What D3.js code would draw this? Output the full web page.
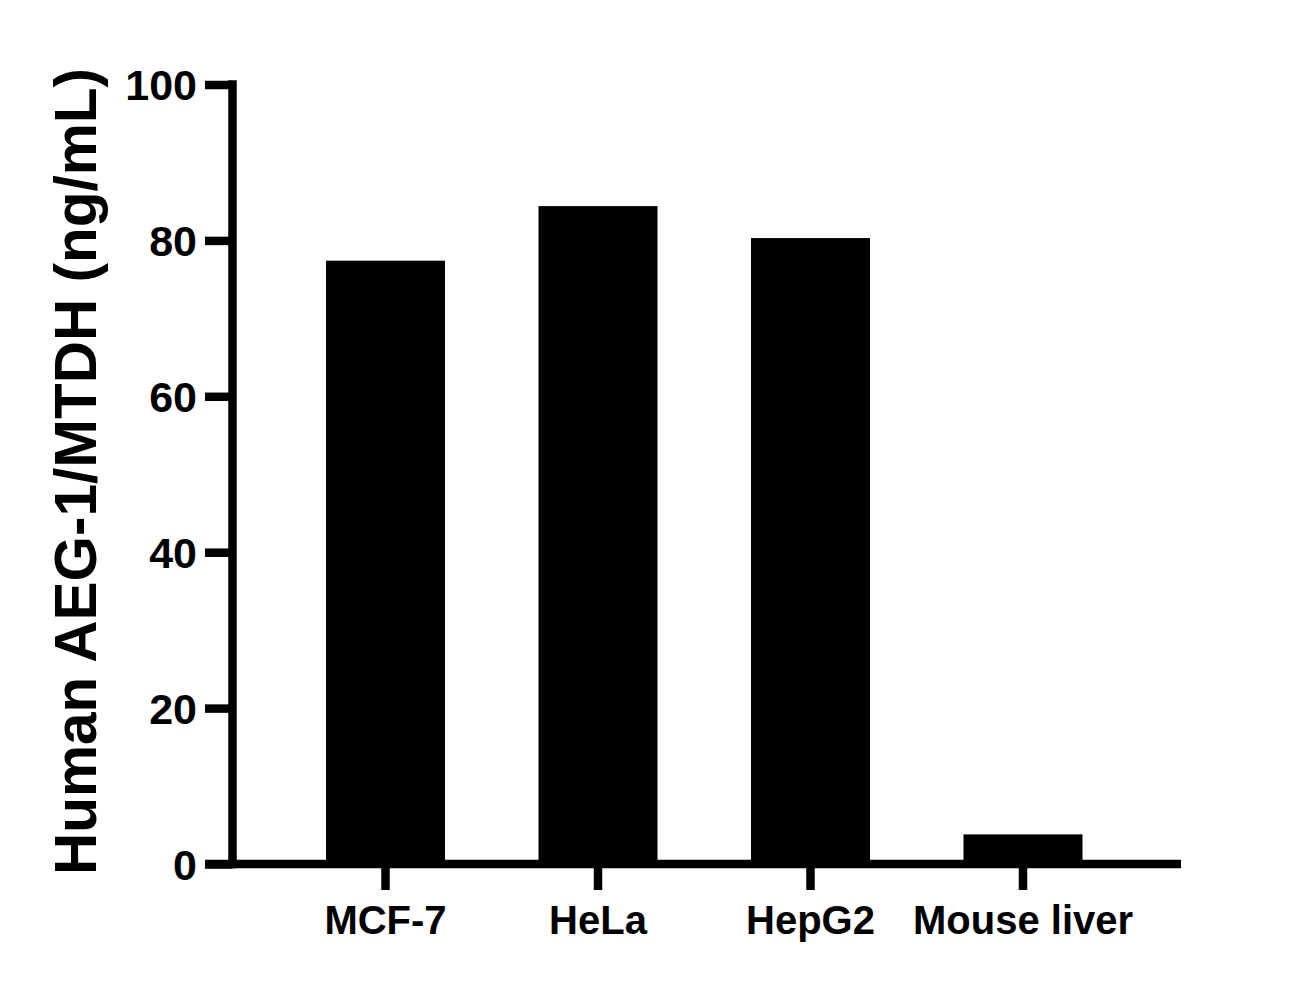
<!DOCTYPE html>
<html>
<head>
<meta charset="utf-8">
<script src="https://cdn.jsdelivr.net/npm/d3@7"></script>
<style>
  html, body { margin: 0; padding: 0; background: #fff; }
  svg { display: block; }
  text { font-family: "Liberation Sans", Arial, sans-serif; font-weight: bold; fill: #000; }
</style>
</head>
<body>
<script>
const categories = ["MCF-7", "HeLa", "HepG2", "Mouse liver"];
const values = [77.4, 84.4, 80.3, 3.8];
const yTicks = [0, 20, 40, 60, 80, 100];
const yTitle = "Human AEG-1/MTDH (ng/mL)";

const W = 1311, H = 985;
const svg = d3.select("body").append("svg").attr("width", W).attr("height", H);

const axisX = 232.5;        // y-axis line centre
const sw = 8.5;             // axis stroke width
const y = d3.scaleLinear().domain([0, 100]).range([864, 84.5]);
const x = d3.scaleBand().domain(categories).range([279.25, 1129.25])
  .paddingInner(0.44).paddingOuter(0.22);

// bars
svg.append("g").selectAll("rect").data(values).join("rect")
  .attr("x", (d, i) => x(categories[i]))
  .attr("width", x.bandwidth())
  .attr("y", d => y(d))
  .attr("height", d => y(0) - y(d))
  .attr("fill", "#000");

// y axis
const gy = svg.append("g").attr("transform", `translate(${axisX},0)`)
  .call(d3.axisLeft(y).tickValues(yTicks).tickSize(27.5).tickPadding(8).tickSizeOuter(0));
gy.select(".domain").remove();
gy.selectAll(".tick line").attr("stroke", "#000").attr("stroke-width", sw).attr("x2", -27.5).attr("x1", 0);
gy.selectAll(".tick text").style("font-size", "43px").attr("dy", "0.36em");
svg.append("line")
  .attr("x1", axisX).attr("x2", axisX)
  .attr("y1", y(100) - sw / 2).attr("y2", y(0) + sw / 2)
  .attr("stroke", "#000").attr("stroke-width", sw);

// x axis
svg.append("line")
  .attr("x1", 205).attr("x2", 1181)
  .attr("y1", y(0)).attr("y2", y(0))
  .attr("stroke", "#000").attr("stroke-width", sw);
const gx = svg.append("g").attr("transform", `translate(0,${y(0)})`)
  .call(d3.axisBottom(x).tickSize(26).tickPadding(0).tickSizeOuter(0));
gx.select(".domain").remove();
gx.selectAll(".tick line").attr("stroke", "#000").attr("stroke-width", sw);
gx.selectAll(".tick text").style("font-size", "40px").attr("y", 69.5).attr("dy", 0);

// y title
svg.append("text")
  .attr("transform", "translate(96,471.5) rotate(-90)")
  .attr("text-anchor", "middle")
  .style("font-size", "58.5px")
  .text(yTitle);
</script>
</body>
</html>
